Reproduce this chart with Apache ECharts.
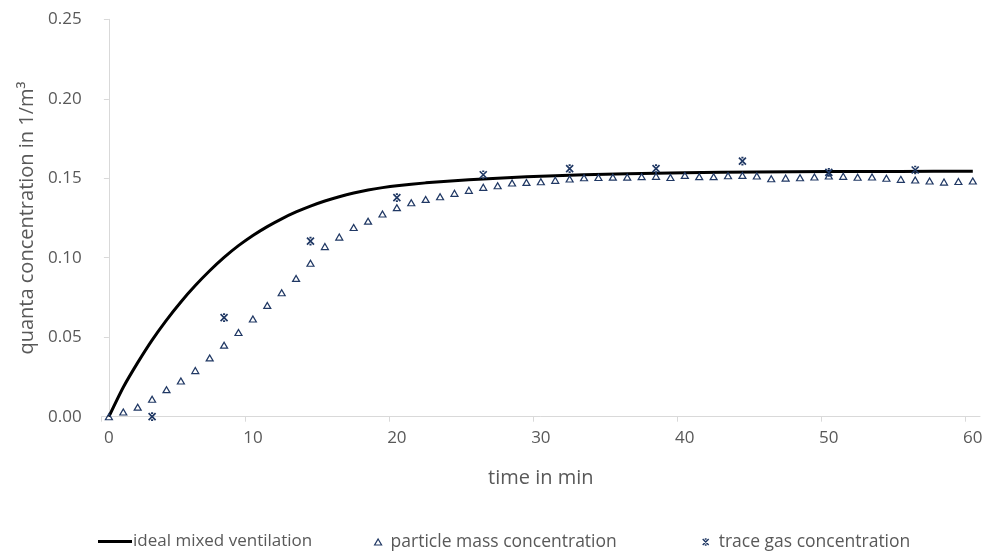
<!DOCTYPE html>
<html>
<head>
<meta charset="utf-8">
<script src="https://cdn.jsdelivr.net/npm/echarts@6/dist/echarts.min.js"></script>
<style>
html,body{margin:0;padding:0;background:#fff;}
#chart{width:998px;height:552px;}
</style>
</head>
<body>
<div id="chart"></div>
<script>
// ---- data ----
const idealTime = [0,1,2,3,4,5,6,7,8,9,10,11,12,13,14,15,16,17,18,19,20,22,24,26,28,30,33,36,40,45,50,55,60];
const idealValues = [0,0.0185,0.034,0.0482,0.0608,0.0722,0.0825,0.0918,0.1002,0.1076,0.1140,0.1196,0.1245,0.1288,0.1325,0.1357,0.1384,0.1407,0.1426,0.1441,0.1453,0.1471,0.1485,0.1496,0.1505,0.1513,0.1522,0.1529,0.1535,0.1539,0.1542,0.1543,0.1544];

const particleTime = [0,1,2,3,4,5,6,7,8,9,10,11,12,13,14,15,16,17,18,19,20,21,22,23,24,25,26,27,28,29,30,31,32,33,34,35,36,37,38,39,40,41,42,43,44,45,46,47,48,49,50,51,52,53,54,55,56,57,58,59,60];
const particleValues = [0.000,0.003,0.006,0.011,0.017,0.0225,0.029,0.037,0.045,0.053,0.0615,0.070,0.078,0.087,0.0965,0.107,0.113,0.119,0.123,0.1275,0.1315,0.1346,0.1367,0.1384,0.1405,0.1424,0.1443,0.1453,0.147,0.1474,0.1478,0.1487,0.1495,0.1503,0.1505,0.1507,0.1507,0.151,0.1512,0.1505,0.1518,0.151,0.151,0.1516,0.1518,0.1514,0.1497,0.1501,0.1503,0.1508,0.1514,0.1512,0.1506,0.1508,0.150,0.1493,0.1489,0.1483,0.1476,0.148,0.1483];

const traceTime = [3,8,14,20,26,32,38,44,50,56];
const traceValues = [0.000,0.0623,0.1105,0.1378,0.1522,0.156,0.156,0.1608,0.1537,0.1552];

const xLabelValues = [0,10,20,30,40,50,60];
const xTickValues = [-0.5,9.5,19.5,29.5,39.5,49.5,59.5];

const seriesNames = ['ideal mixed ventilation','particle mass concentration','trace gas concentration'];

// ---- chart ----
const zip = (a,b) => a.map((v,i) => [v,b[i]]);
const navy = '#203864';
const gray = '#595959';
const font = 'Open Sans';
const xPath = 'path://M0,0L10,10M10,0L0,10M3.5,0L6.5,0M3.5,10L6.5,10';

const chart = echarts.init(document.getElementById('chart'), null, {renderer:'canvas'});
chart.setOption({
  animation:false,
  backgroundColor:'#fff',
  textStyle:{fontFamily:font},
  grid:{left:101.7,right:18,top:19.3,bottom:135.3,containLabel:false},
  xAxis:{
    type:'value', min:-0.5, max:60.5,
    name:'time in min', nameLocation:'middle', nameGap:52,
    nameTextStyle:{color:gray,fontSize:20,fontFamily:font},
    axisLine:{show:true,lineStyle:{color:'#d9d9d9',width:1}},
    axisTick:{show:true,length:5,lineStyle:{color:'#d9d9d9'},customValues:xTickValues},
    axisLabel:{color:gray,fontSize:17,fontFamily:font,margin:13,customValues:xLabelValues},
    splitLine:{show:false}
  },
  yAxis:{
    type:'value', min:0, max:0.25, interval:0.05,
    name:'quanta concentration in 1/m³', nameLocation:'middle', nameGap:62, nameRotate:90,
    nameTextStyle:{color:gray,fontSize:20,fontFamily:font},
    axisLine:{show:true,lineStyle:{color:'#d9d9d9',width:1}},
    axisTick:{show:true,length:5,lineStyle:{color:'#d9d9d9'}},
    axisLabel:{color:gray,fontSize:17,fontFamily:font,margin:20,formatter:v=>v.toFixed(2)},
    splitLine:{show:false}
  },
  legend:[
    {left:93, top:528, itemWidth:34, itemHeight:3, itemGap:0,
     data:[{name:seriesNames[0],icon:'rect',itemStyle:{color:'#000',borderWidth:0}}],
     textStyle:{color:gray,fontSize:17,fontFamily:font,padding:[0,0,0,-4]}},
    {left:369, top:528, itemWidth:7, itemHeight:6,
     data:[{name:seriesNames[1],icon:'triangle',itemStyle:{color:'rgba(0,0,0,0)',borderColor:navy,borderWidth:1.2}}],
     textStyle:{color:gray,fontSize:17.5,fontFamily:font,padding:[0,0,0,4]}},
    {left:697, top:528, itemWidth:6, itemHeight:6,
     data:[{name:seriesNames[2],icon:xPath,itemStyle:{color:'rgba(0,0,0,0)',borderColor:navy,borderWidth:1.4}}],
     textStyle:{color:gray,fontSize:17.5,fontFamily:font,padding:[0,0,0,5]}}
  ],
  series:[
    {name:seriesNames[0], type:'line', data:zip(idealTime,idealValues), smooth:0.25, symbol:'none',
     lineStyle:{color:'#000',width:3}, itemStyle:{color:'#000'}, z:2},
    {name:seriesNames[1], type:'scatter', data:zip(particleTime,particleValues), symbol:'triangle', symbolSize:[7,6],
     itemStyle:{color:'rgba(0,0,0,0)',borderColor:navy,borderWidth:1.2,opacity:1}, z:3},
    {name:seriesNames[2], type:'scatter', data:zip(traceTime,traceValues), symbol:xPath, symbolSize:[7,7],
     itemStyle:{color:'rgba(0,0,0,0)',borderColor:navy,borderWidth:1.7,opacity:1}, z:4}
  ]
});
</script>
</body>
</html>
